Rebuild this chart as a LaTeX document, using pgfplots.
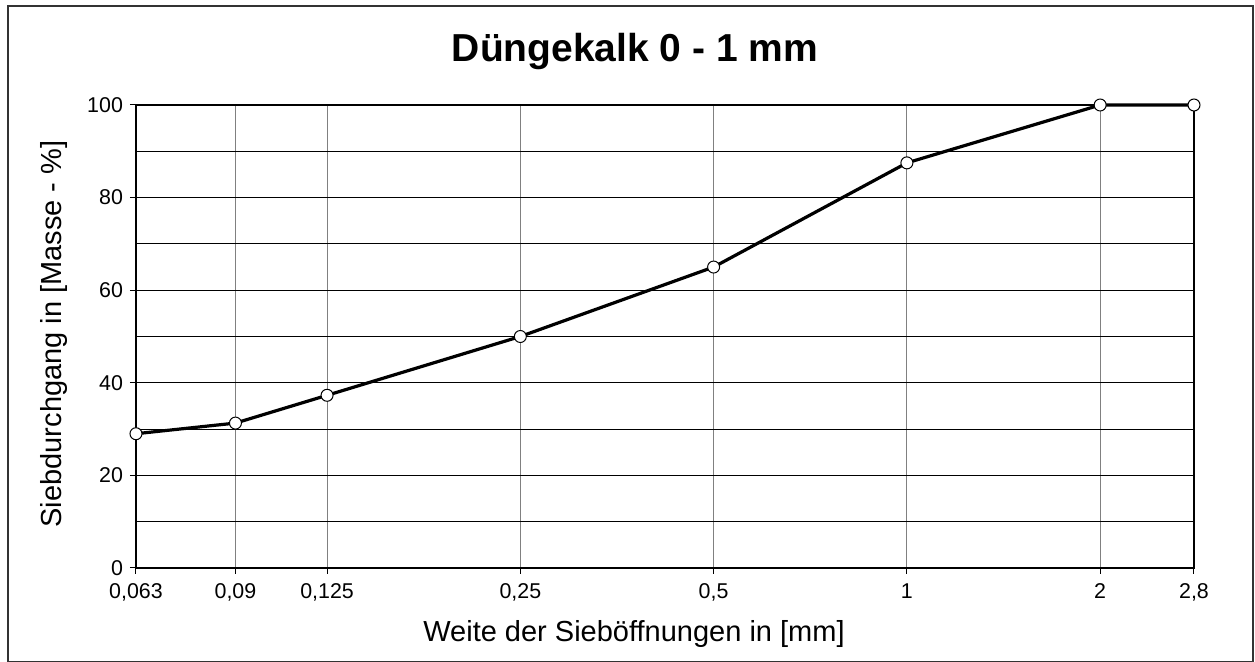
\documentclass[border=0pt]{standalone}
\usepackage{fontspec}
\setmainfont{Liberation Sans}
\usepackage{pgfplots}
\pgfplotsset{compat=1.18}
\begin{document}
\begin{tikzpicture}
\path[use as bounding box] (0pt,0pt) rectangle (627.5pt,-331pt);
\draw[line width=0.6pt, black!80] (4pt,-3pt) rectangle (626.5pt,-331pt);
\begin{axis}[
  at={(68pt,-284pt)}, anchor=south west,
  scale only axis, width=529pt, height=231.5pt,
  xmode=log, xmin=0.063, xmax=2.8, ymin=0, ymax=100,
  xtick={0.063,0.09,0.125,0.25,0.5,1,2,2.8},
  xticklabels={{0,063},{0,09},{0,125},{0,25},{0,5},{1},{2},{2,8}},
  ytick={0,20,40,60,80,100},
  minor ytick={10,30,50,70,90},
  /pgf/number format/assume math mode=true,
  tick label style={font=\fontsize{10.7pt}{12pt}\selectfont},
  xticklabel style={yshift=-1pt, text height=0.75em, text depth=0.22em},
  xmajorgrids, ymajorgrids, yminorgrids,
  x grid style={gray, line width=0.5pt},
  y grid style={black, line width=0.5pt},
  minor y grid style={black, line width=0.5pt},
  axis line style={black, line width=1.1pt},
  tick align=outside, major tick length=3pt, minor tick length=0pt,
  tick style={black, line width=0.5pt},
  xtick pos=bottom, ytick pos=left,
  clip=false,
]
\addplot[black, line width=1.6pt, mark=*, mark size=3pt,
  mark options={fill=white, draw=black, line width=0.5pt}]
  coordinates {(0.063,29) (0.09,31.3) (0.125,37.3) (0.25,50) (0.5,65) (1,87.5) (2,100) (2.8,100)};
\end{axis}
\node[font=\bfseries\fontsize{19.5pt}{23pt}\selectfont] at (317.5pt,-26pt) {Düngekalk 0 - 1 mm};
\node[font=\fontsize{14.5pt}{17pt}\selectfont, rotate=90] at (27pt,-167pt) {Siebdurchgang in [Masse - \%]};
\node[font=\fontsize{14.5pt}{17pt}\selectfont] at (317pt,-317pt) {Weite der Sieböffnungen in [mm]};
\end{tikzpicture}
\end{document}
